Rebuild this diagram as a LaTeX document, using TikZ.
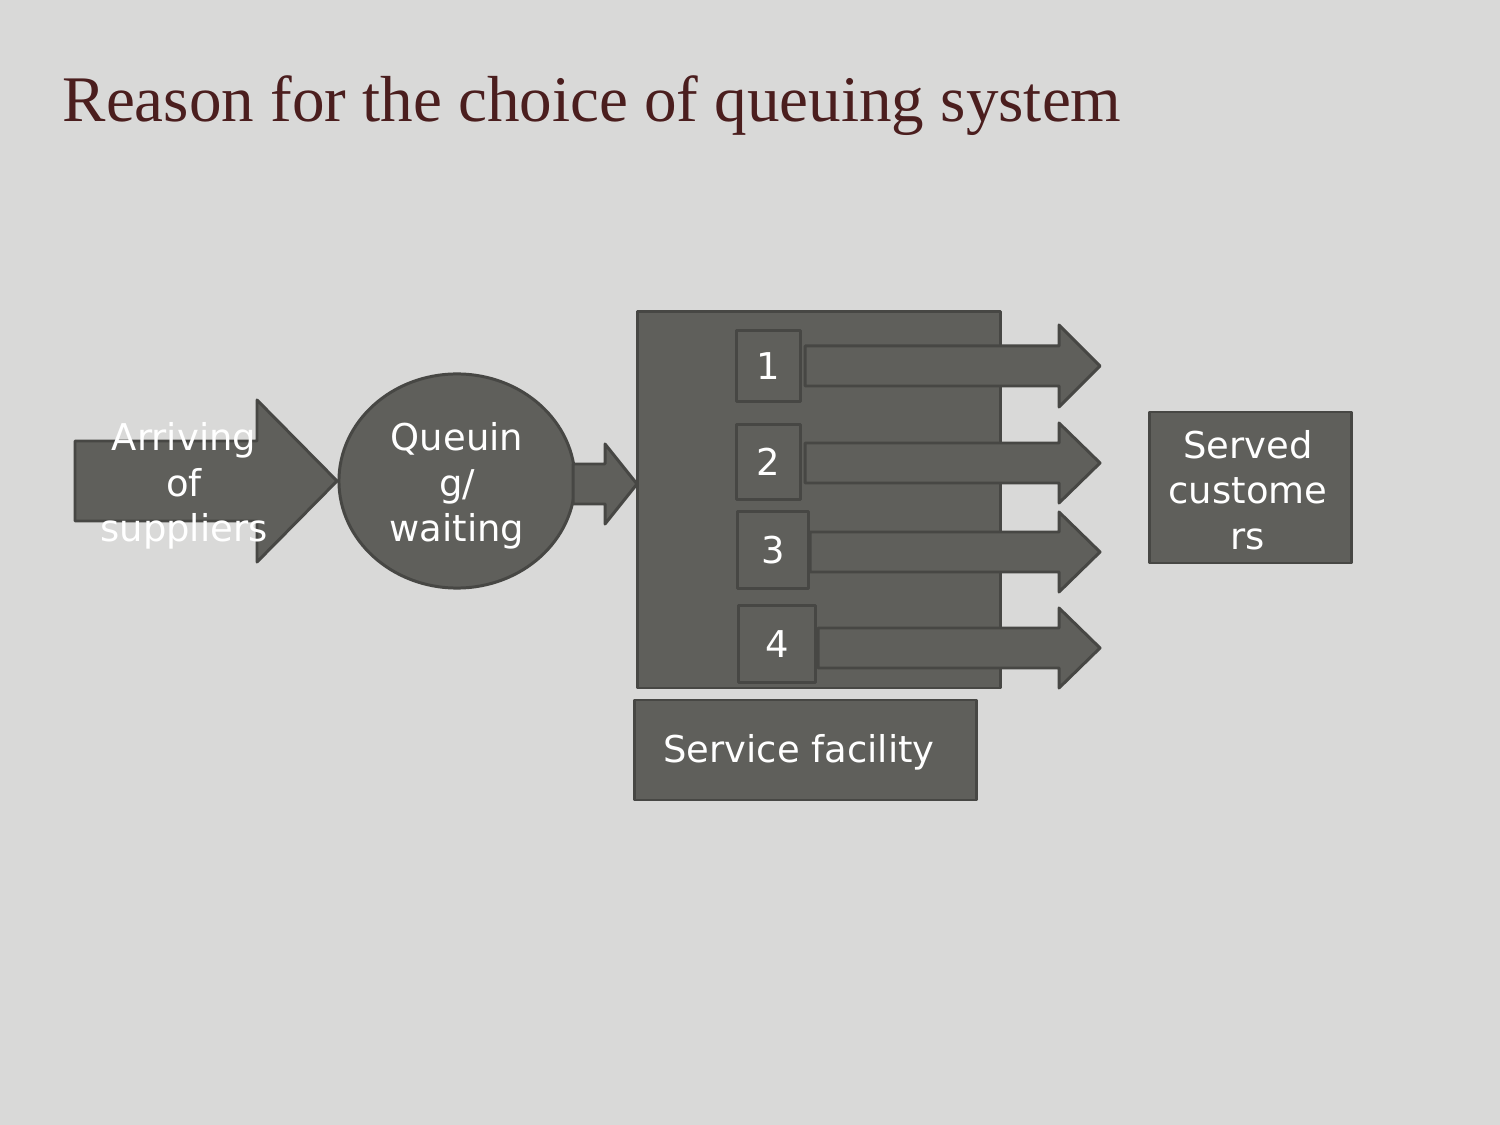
\documentclass[tikz,border=0pt]{standalone}
\usepackage{fontspec}
\setmainfont{DejaVu Sans}
\newfontfamily\fonteTitulo{Liberation Serif}
\usetikzlibrary{calc,shapes.geometric}
\definecolor{fundo}{HTML}{D9D9D8}
\definecolor{cinza}{HTML}{5F5F5B}
\definecolor{borda}{HTML}{474744}
\definecolor{vinho}{HTML}{4B1E1E}
\tikzset{
  bloco/.style={fill=cinza,draw=borda,line width=0.85pt,line join=round},
  rotulo/.style={text=white,align=center,font=\fontsize{10.5}{12.9}\selectfont},
  caixa/.style={bloco,rotulo,inner sep=0pt},
}
% seta em bloco: inicio, base da ponta, ponta, y do eixo, meia haste, meia ponta
\newcommand{\seta}[6]{\draw[bloco] (#1,#4-#5) -- (#2,#4-#5) -- (#2,#4-#6) -- (#3,#4) -- (#2,#4+#6) -- (#2,#4+#5) -- (#1,#4+#5) -- cycle;}

\begin{document}
\begin{tikzpicture}[x=0.01cm,y=-0.01cm]
  \fill[fundo] (0,0) rectangle (1500,1125);
  \useasboundingbox (0,0) rectangle (1500,1125);

  \node[anchor=base west,text=vinho,font=\fonteTitulo\fontsize{18.5}{22}\selectfont,inner sep=0pt]
    (titulo) at (62,122) {Reason for the choice of queuing system};

  % chegada e fila
  \seta{75}{257}{337}{481}{40}{81}
  \node[rotulo] (chegada) at (184,486) {Arriving\\of\\suppliers};
  \node[bloco,ellipse,minimum width=2.36cm,minimum height=2.14cm,inner sep=0pt]
    (fila) at (457,481) {};
  \node[rotulo] (filatexto) at (457,486) {Queuin\\g/\\waiting};
  \seta{573}{605}{637}{484}{20}{40}

  % servico
  \draw[bloco] (637,312) rectangle (1000,688);
  \node[caixa,minimum width=0.63cm,minimum height=0.70cm] (s1) at (768.5,366) {1};
  \node[caixa,minimum width=0.63cm,minimum height=0.74cm] (s2) at (768.5,462) {2};
  \node[caixa,minimum width=0.70cm,minimum height=0.76cm] (s3) at (773,550) {3};
  \node[caixa,minimum width=0.76cm,minimum height=0.76cm] (s4) at (777,644) {4};
  \seta{805}{1059}{1100}{366}{20}{41}
  \seta{805}{1059}{1100}{463}{20}{40}
  \seta{810}{1059}{1100}{552}{20}{40}
  \seta{818}{1059}{1100}{648}{20}{40}

  \draw[bloco] (1149,412) rectangle (1351,563);
  \node[rotulo] (atendidos) at (1248,490) {Served\\custome\\rs};
  \draw[bloco] (634,700) rectangle (976,800);
  \node[rotulo] (instalacao) at (799,752) {Service facility};
\end{tikzpicture}
\end{document}
